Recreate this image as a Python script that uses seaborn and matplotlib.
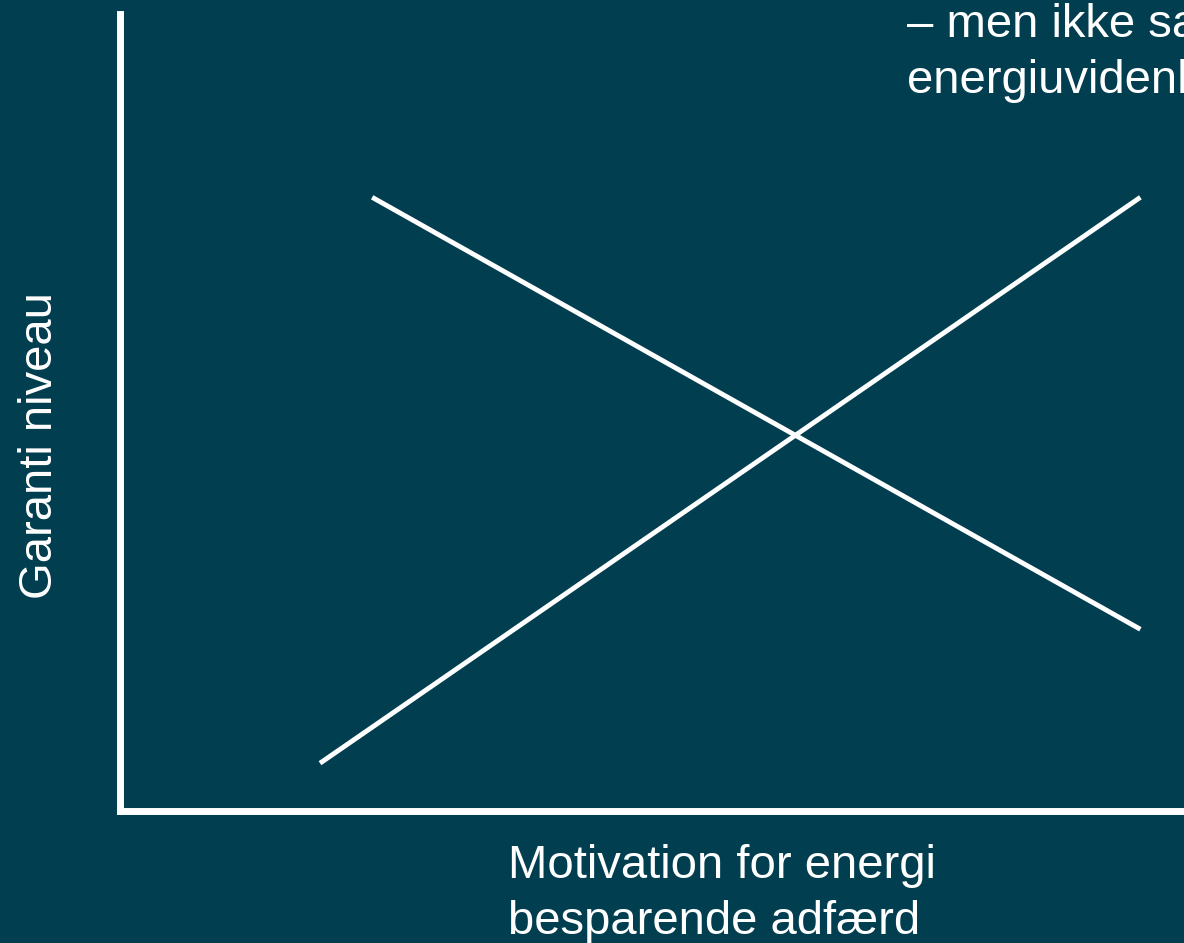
import matplotlib
matplotlib.use("Agg")
import matplotlib.pyplot as plt
import seaborn as sns

# ── data (normalised 0..1 on both axes) ──────────────────────────────
line_down_x = [0.237, 0.959]
line_down_y = [0.770, 0.228]
line_up_x = [0.188, 0.959]
line_up_y = [0.060, 0.770]

x_label = "Motivation for energi\nbesparende adfærd"
y_label = "Garanti niveau"
corner_text = "– men ikke samme\nenergiuvidenhed"

BG = "#013e50"
FG = "white"

sns.set_style("white", {"axes.facecolor": BG, "figure.facecolor": BG})
plt.rcParams["font.family"] = ["Liberation Sans", "DejaVu Sans"]

W, H = 1184, 943
fig = plt.figure(figsize=(W / 100, H / 100), dpi=100)
ax = fig.add_axes([120 / W, (H - 811) / H, (W - 120) / W, (811 - 14) / H])
ax.set_facecolor(BG)

sns.lineplot(x=line_down_x, y=line_down_y, ax=ax, color=FG, linewidth=3.5,
             solid_capstyle="butt")
sns.lineplot(x=line_up_x, y=line_up_y, ax=ax, color=FG, linewidth=3.5,
             solid_capstyle="butt")

ax.set_xlim(0, 1)
ax.set_ylim(0, 1)
ax.set_xticks([])
ax.set_yticks([])
ax.set_xlabel("")
ax.set_ylabel("")
for side in ["top", "right"]:
    ax.spines[side].set_visible(False)
for side in ["left", "bottom"]:
    ax.spines[side].set_color(FG)
    ax.spines[side].set_linewidth(5)

fig.text(508 / W, 1 - 844 / H, x_label, ha="left", va="top",
         fontsize=34, color=FG, linespacing=1.34)
fig.text(40 / W, 1 - 446 / H, y_label, ha="center", va="center",
         rotation=90, fontsize=34, color=FG)
# the reference crops this sentence at the right edge
fig.text(907 / W, 1 - 3 / H, corner_text, ha="left", va="top",
         fontsize=34, color=FG, linespacing=1.34)

fig.savefig("out.png", dpi=100, facecolor=BG)
